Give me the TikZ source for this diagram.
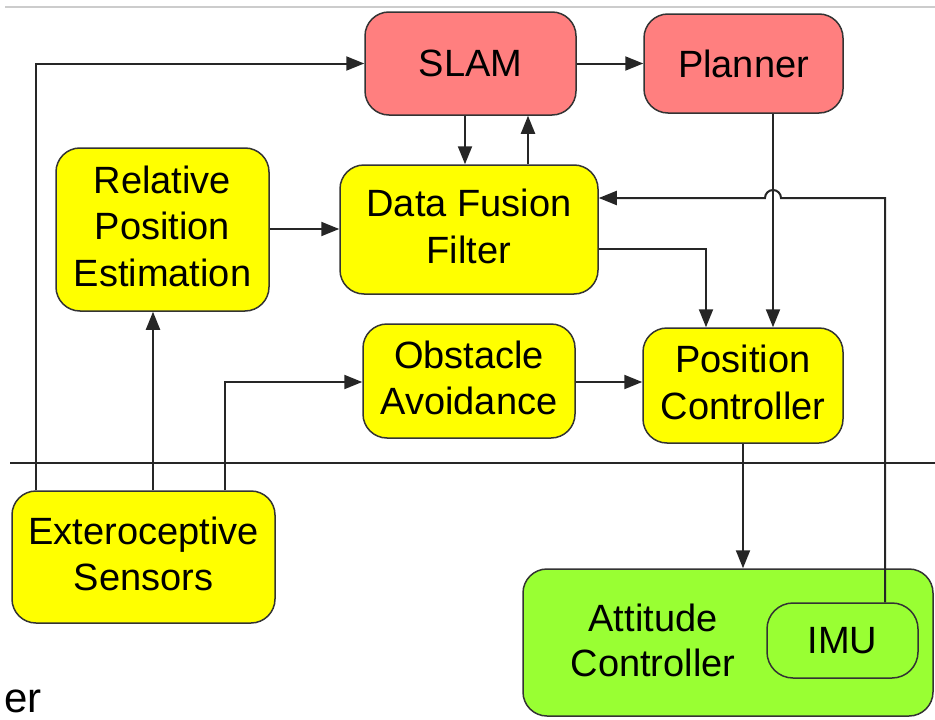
\documentclass[tikz,border=0pt]{standalone}
\usepackage{fontspec}
\setmainfont{Liberation Sans}
\usetikzlibrary{arrows.meta}
\definecolor{boxred}{HTML}{FF7F7F}
\definecolor{boxyellow}{HTML}{FFFF00}
\definecolor{boxgreen}{HTML}{99FF33}
\definecolor{edgegray}{HTML}{333333}
\begin{document}
\begin{tikzpicture}[x=1pt,y=-1pt,
  box/.style={draw=edgegray, line width=1.5pt, rounded corners=24pt, align=center,
    font=\fontsize{38}{46.5}\selectfont, inner sep=0pt},
  multi/.style={text depth=7pt},
  arr/.style={line width=2pt, draw=black!85, -{Triangle[length=18pt,width=14pt]}},
  ln/.style={line width=2pt, draw=black!85}]
\useasboundingbox (0,0) rectangle (935,720);
\draw[black!20, line width=1.5pt] (5,7) -- (935,7);
\draw[ln] (10,463) -- (935,463);
% nodes
\node[box, fill=boxred, minimum width=211pt, minimum height=103pt] (slam) at (470.5,63.5) {SLAM};
\node[box, fill=boxred, minimum width=199pt, minimum height=99pt] (planner) at (743.5,63.5) {Planner};
\node[box, multi, fill=boxyellow, minimum width=213pt, minimum height=163pt] (rpe) at (162.5,229.5) {Relative\\Position\\Estimation};
\node[box, multi, fill=boxyellow, minimum width=258pt, minimum height=129pt] (dff) at (469,229.5) {Data Fusion\\Filter};
\node[box, multi, fill=boxyellow, minimum width=212pt, minimum height=114pt] (oa) at (469,381) {Obstacle\\Avoidance};
\node[box, multi, fill=boxyellow, minimum width=200pt, minimum height=115pt] (pc) at (743,385.5) {Position\\Controller};
\node[box, multi, fill=boxyellow, minimum width=263pt, minimum height=132pt] (es) at (143.5,557) {Exteroceptive\\Sensors};
\node[box, fill=boxgreen, minimum width=410pt, minimum height=147pt] (att) at (728,642.5) {};
\node[align=center, font=\fontsize{38}{45}\selectfont, inner sep=0pt] (atttext) at (653,640) {Attitude\\Controller};
\node[box, fill=boxgreen, rounded corners=26pt, minimum width=151pt, minimum height=75pt] (imu) at (842.5,640.5) {IMU};
\node[anchor=base west, font=\fontsize{42}{46}\selectfont, inner sep=0pt, text depth=0pt, text height=22pt] (er) at (4,712) {er};
% connectors
\draw[arr] (es.north -| 36,0) |- (slam.west);
\draw[arr] (es.north -| 153,0) -- (rpe.south -| 153,0);
\draw[arr] (es.north -| 225,0) |- (oa.west |- 0,382);
\draw[arr] (rpe.east |- 0,229) -- (dff.west |- 0,229);
\draw[arr] (slam.east) -- (planner.west);
\draw[arr] (slam.south -| 465,0) -- (dff.north -| 465,0);
\draw[arr] (dff.north -| 528,0) -- (slam.south -| 528,0);
\draw[arr] (dff.east |- 0,249) -| (pc.north -| 706,0);
\draw[arr] (planner.south -| 773,0) -- (pc.north -| 773,0);
\draw[arr] (oa.east |- 0,382) -- (pc.west |- 0,382);
\draw[arr] (pc.south -| 743,0) -- (att.north -| 743,0);
\draw[arr] (imu.north -| 885,0) -- (885,198) -- (781,198) arc[start angle=0, end angle=180, radius=8pt] -- (dff.east |- 0,198);
\end{tikzpicture}
\end{document}
